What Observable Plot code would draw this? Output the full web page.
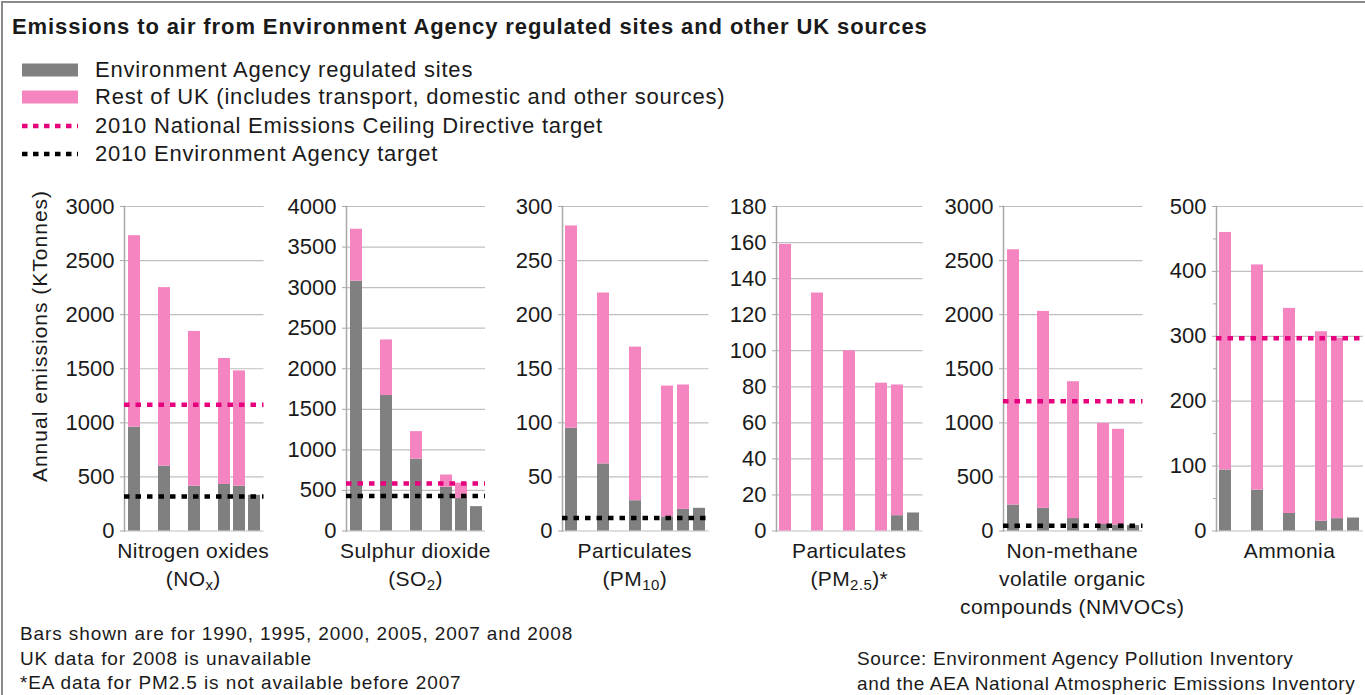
<!DOCTYPE html>
<html>
<head>
<meta charset="utf-8">
<script src="https://cdn.jsdelivr.net/npm/d3@7"></script>
<script src="https://cdn.jsdelivr.net/npm/@observablehq/plot@0.6"></script>
<style>
  html, body { margin: 0; padding: 0; background: #fff; }
  body { font-family: "Liberation Sans", Arial, sans-serif; color: #1a1a1a; }
  #root { position: relative; width: 1365px; height: 695px; overflow: hidden; background: #fff; }
  #frameL { position: absolute; left: 1px; top: 1px; width: 2px; height: 694px; background: #8a8a8a; }
  #frameT { position: absolute; left: 1px; top: 1px; width: 1364px; height: 2px; background: #8a8a8a; }
  .abs { position: absolute; white-space: nowrap; }
  .title { left: 12px; top: 14px; font-size: 22px; font-weight: bold; letter-spacing: 0.9px; line-height: 26px; }
  .leg { left: 95px; font-size: 22px; letter-spacing: 0.8px; line-height: 26px; }
  .ytitle { font-size: 21px; letter-spacing: 1px; transform-origin: center center; }
  .cat { font-size: 21px; letter-spacing: 0.4px; line-height: 28px; text-align: center; }
  .cat sub { font-size: 15px; line-height: 0; vertical-align: -4px; }
  .note { font-size: 19px; letter-spacing: 0.9px; line-height: 24.5px; }
  .src { font-size: 19px; letter-spacing: 0.65px; line-height: 24.5px; }
  .panel { position: absolute; }
</style>
</head>
<body>
<div id="root">
  <div id="frameL"></div><div id="frameT"></div>
</div>
<script>
// ---------------- data ----------------
const years = ["1990", "1995", "2000", "2005", "2007", "2008"];
// band slots: blank slots keep the gaps between 1990, 1995, 2000 and 2005
const slots = ["1990", "gap1", "1995", "gap2", "2000", "gap3", "2005", "2007", "2008"];

const seriesNames = ["Environment Agency regulated sites", "Rest of UK (includes transport, domestic and other sources)"];
const targetNames = ["2010 National Emissions Ceiling Directive target", "2010 Environment Agency target"];

// KTonnes; EA = Environment Agency regulated sites, Rest = rest of UK (null = not available)
const noxEA   = [960, 600, 415, 430, 415, 330];
const noxRest = [1770, 1650, 1430, 1165, 1065, null];
const noxNEC = 1167, noxTarget = 320;

const so2EA   = [3080, 1670, 885, 540, 400, 300];
const so2Rest = [640, 685, 340, 150, 190, null];
const so2NEC = 585, so2Target = 430;

const pm10EA   = [95, 62, 28, 13, 20, 21];
const pm10Rest = [187, 158, 142, 121, 115, null];
const pm10NEC = null, pm10Target = 12;

const pm25EA   = [null, null, null, null, 8.5, 10];
const pm25Rest = [159, 132, 100, 82, 72.5, null];
const pm25NEC = null, pm25Target = null;

const nmvocEA   = [240, 210, 115, 60, 55, 50];
const nmvocRest = [2360, 1820, 1265, 935, 885, null];
const nmvocNEC = 1200, nmvocTarget = 48;

const nh3EA   = [94, 63, 27, 15, 19, 20];
const nh3Rest = [366, 347, 316, 292, 278, null];
const nh3NEC = 297, nh3Target = null;

const yMax  = [3000, 4000, 300, 180, 3000, 500];
const yStep = [500, 500, 50, 20, 500, 100];

const catLabels = [
  'Nitrogen oxides<br>(NO<sub>x</sub>)',
  'Sulphur dioxide<br>(SO<sub>2</sub>)',
  'Particulates<br>(PM<sub>10</sub>)',
  'Particulates<br>(PM<sub>2.5</sub>)*',
  'Non-methane<br>volatile organic<br>compounds (NMVOCs)',
  'Ammonia'
];

const notes = [
  "Bars shown are for 1990, 1995, 2000, 2005, 2007 and 2008",
  "UK data for 2008 is unavailable",
  "*EA data for PM2.5 is not available before 2007"
];
const sourceLines = [
  "Source: Environment Agency Pollution Inventory",
  "and the AEA National Atmospheric Emissions Inventory"
];

// ---------------- layout ----------------
const GRAY = "#808080", PINK = "#f585c0", MAGENTA = "#e6007e";
const eaSeries   = [noxEA, so2EA, pm10EA, pm25EA, nmvocEA, nh3EA];
const restSeries = [noxRest, so2Rest, pm10Rest, pm25Rest, nmvocRest, nh3Rest];
const necTargets = [noxNEC, so2NEC, pm10NEC, pm25NEC, nmvocNEC, nh3NEC];
const eaTargets  = [noxTarget, so2Target, pm10Target, pm25Target, nmvocTarget, nh3Target];
const plotLeft   = [123.5, 346, 561.5, 776, 1002.5, 1216];
const plotWidth  = [139.5, 139, 146.5, 146.5, 139.5, 147];

const root = document.getElementById("root");
function addDiv(cls, html, style) {
  const d = document.createElement("div");
  d.className = "abs " + cls;
  d.innerHTML = html;
  Object.assign(d.style, style || {});
  root.appendChild(d);
  return d;
}

// title
addDiv("title", "Emissions to air from Environment Agency regulated sites and other UK sources");

// legend
const legRows = [57, 84, 113, 141];
const legKinds = [
  {type: "rect", color: GRAY, label: seriesNames[0]},
  {type: "rect", color: PINK, label: seriesNames[1]},
  {type: "dash", color: MAGENTA, label: targetNames[0]},
  {type: "dash", color: "#000", label: targetNames[1]}
];
legKinds.forEach((k, i) => {
  const ns = "http://www.w3.org/2000/svg";
  const svg = document.createElementNS(ns, "svg");
  svg.setAttribute("width", 60); svg.setAttribute("height", 26);
  svg.style.position = "absolute"; svg.style.left = "20px"; svg.style.top = legRows[i] + "px";
  if (k.type === "rect") {
    const r = document.createElementNS(ns, "rect");
    r.setAttribute("x", 2); r.setAttribute("y", 6.5); r.setAttribute("width", 56); r.setAttribute("height", 13);
    r.setAttribute("fill", k.color);
    svg.appendChild(r);
  } else {
    const l = document.createElementNS(ns, "line");
    l.setAttribute("x1", 2); l.setAttribute("x2", 58); l.setAttribute("y1", 13); l.setAttribute("y2", 13);
    l.setAttribute("stroke", k.color); l.setAttribute("stroke-width", 4.5);
    l.setAttribute("stroke-dasharray", "5.5,5.5");
    svg.appendChild(l);
  }
  root.appendChild(svg);
  addDiv("leg", k.label, {top: legRows[i] + "px"});
});

// y-axis title
const yt = addDiv("ytitle", "Annual emissions (KTonnes)");
const ytw = yt.getBoundingClientRect().width, yth = yt.getBoundingClientRect().height;
yt.style.left = (40 - ytw / 2) + "px";
yt.style.top = (336 - yth / 2) + "px";
yt.style.transform = "rotate(-90deg)";

// panels
const SVG_TOP = 196, M_TOP = 10, M_LEFT = 72, M_RIGHT = 1;
for (let p = 0; p < 6; p++) {
  const rows = [];
  years.forEach((y, i) => { if (eaSeries[p][i] != null) rows.push({year: y, type: "EA", value: eaSeries[p][i]}); });
  years.forEach((y, i) => { if (restSeries[p][i] != null) rows.push({year: y, type: "Rest", value: restSeries[p][i]}); });
  const ticks = d3.range(0, yMax[p] + 1, yStep[p]);
  const marks = [
    Plot.gridY(ticks, {stroke: "#bfbfbf", strokeOpacity: 1, strokeWidth: 1.2}),
    Plot.barY(rows, {x: "year", y: "value", fill: "type"}),
    Plot.frame({anchor: "left", stroke: "#a8a8a8", strokeWidth: 1.5}),
    Plot.axisY(ticks, {tickSize: 4, tickPadding: 6, fontSize: 22, stroke: "#a8a8a8", fill: "#1a1a1a", tickFormat: d => String(d), label: null})
  ];
  if (p === 5) {
    const minor = ticks.slice(1).map(t => t - yStep[p] / 2);
    marks.push(Plot.axisY(minor, {tickSize: 3, stroke: "#a8a8a8", tickFormat: () => "", label: null}));
  }
  if (necTargets[p] != null) marks.push(Plot.ruleY([necTargets[p]], {stroke: MAGENTA, strokeWidth: 4.5, strokeDasharray: "5.5,6"}));
  if (eaTargets[p] != null) marks.push(Plot.ruleY([eaTargets[p]], {stroke: "#000", strokeWidth: 4.5, strokeDasharray: "5.5,6"}));

  const W = M_LEFT + plotWidth[p] + M_RIGHT;
  const chart = Plot.plot({
    width: W,
    height: 340,
    marginLeft: M_LEFT, marginRight: M_RIGHT, marginTop: M_TOP, marginBottom: 5.5,
    x: {domain: slots, paddingInner: 0.22, paddingOuter: 0.1, axis: null},
    y: {domain: [0, yMax[p]]},
    color: {domain: ["EA", "Rest"], range: [GRAY, PINK]},
    style: {background: "transparent", overflow: "visible", fontFamily: '"Liberation Sans", Arial, sans-serif', color: "#1a1a1a"},
    marks
  });
  const holder = document.createElement("div");
  holder.className = "panel";
  holder.style.left = (plotLeft[p] - M_LEFT) + "px";
  holder.style.top = SVG_TOP + "px";
  holder.style.width = W + "px";
  holder.appendChild(chart);
  root.appendChild(holder);

  // category label under the panel
  const c = addDiv("cat", catLabels[p]);
  const cw = c.getBoundingClientRect().width;
  c.style.left = (plotLeft[p] + plotWidth[p] / 2 - cw / 2) + "px";
  c.style.top = "537px";
}

// notes
addDiv("note", notes.join("<br>"), {left: "20px", top: "622px"});
addDiv("src", sourceLines.join("<br>"), {left: "857px", top: "647px"});
</script>
</body>
</html>
